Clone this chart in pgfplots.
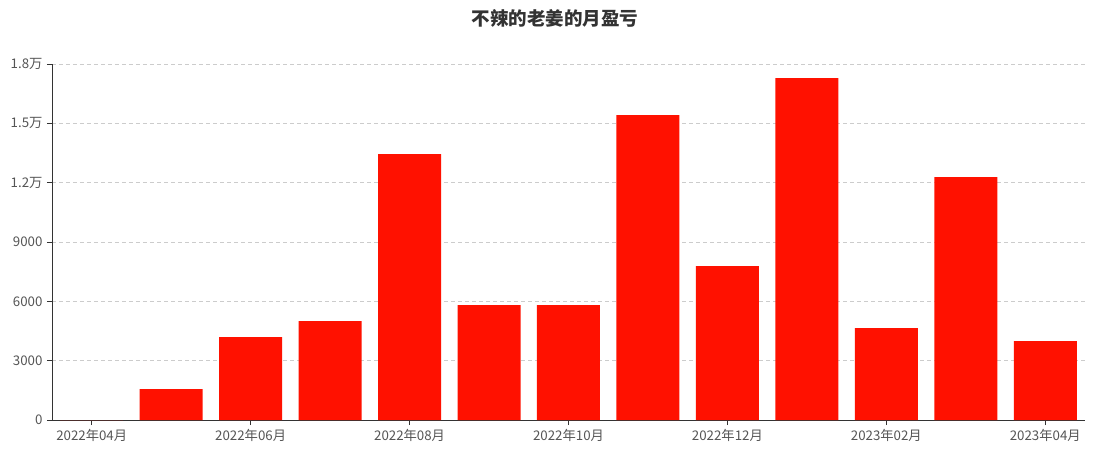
\documentclass[border=0pt]{standalone}
\usepackage{pgfplots}
\pgfplotsset{compat=1.18}
\usepackage{fontspec}
\setmainfont{Noto Sans CJK SC}
\definecolor{barred}{RGB}{255,17,0}
\definecolor{txt}{RGB}{85,85,85}
\definecolor{axisc}{RGB}{51,51,51}
\definecolor{gridc}{RGB}{204,204,204}
\begin{document}
\begin{tikzpicture}[x=1pt,y=1pt]
\useasboundingbox (-52,-36) rectangle (1049,420);
\begin{axis}[
  at={(0,0)}, anchor=south west,
  scale only axis, width=1033pt, height=356pt,
  xmin=-0.5, xmax=12.5, ymin=0, ymax=18000,
  axis lines=left, axis line style={-, color=axisc, line width=0.8pt},
  xtick={0,2,4,6,8,10,12},
  xticklabels={2022年04月,2022年06月,2022年08月,2022年10月,2022年12月,2023年02月,2023年04月},
  ytick={0,3000,6000,9000,12000,15000,18000},
  yticklabels={0,3000,6000,9000,1.2万,1.5万,1.8万},
  tick align=outside, major tick length=5pt,
  tick style={color=axisc, line width=0.8pt},
  ticklabel style={font=\fontsize{13.3}{15}\selectfont, text=txt},
  xticklabel style={yshift=-1pt},
  yticklabel style={xshift=-1pt},
  ymajorgrids, grid style={dash pattern=on 4pt off 3pt, color=gridc, line width=0.8pt},
  scaled y ticks=false,
  clip=false,
]
\addplot[ybar, bar width=63pt, fill=barred, draw=none] coordinates {
(0,0) (1,1567) (2,4196) (3,5005) (4,13448) (5,5814) (6,5814) (7,15420) (8,7786) (9,17290) (10,4651) (11,12285) (12,3994)
};
\end{axis}
\node[font=\fontsize{18.5}{20}\selectfont\bfseries, text=axisc] at (503,402) {不辣的老姜的月盈亏};
\end{tikzpicture}
\end{document}
